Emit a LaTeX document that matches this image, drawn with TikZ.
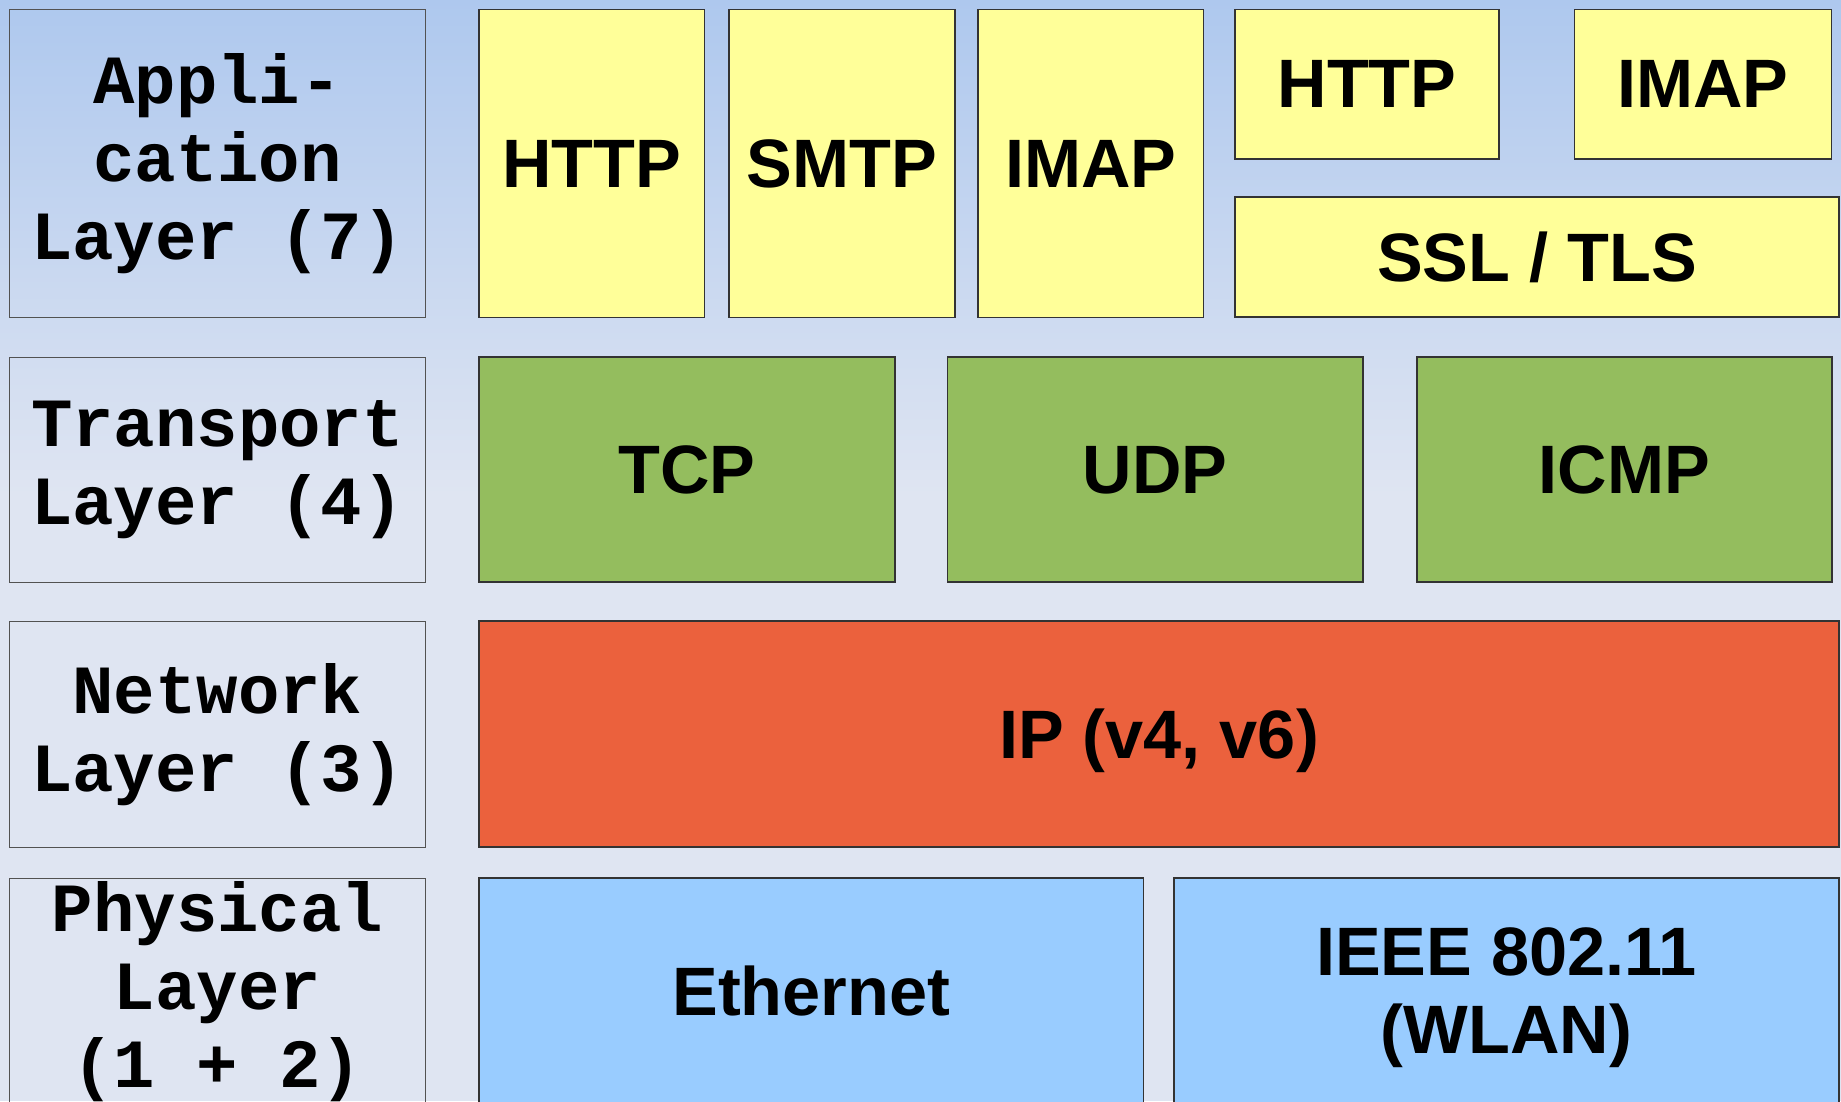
\documentclass[tikz,border=0pt]{standalone}
\usepackage{fontspec}
\setmainfont{Liberation Sans}
\newfontfamily\layerfont{Liberation Mono}
\definecolor{netSkyTop}{HTML}{AEC8EE}
\definecolor{netSkyLow}{HTML}{DFE5F2}
\definecolor{netYellow}{HTML}{FFFF99}
\definecolor{netGreen}{HTML}{94BD5E}
\definecolor{netRed}{HTML}{EB613D}
\definecolor{netBlue}{HTML}{99CCFF}
\definecolor{netEdge}{HTML}{333333}
\usetikzlibrary{positioning}

\begin{document}
\begin{tikzpicture}[x=1pt, y=-1pt,
  lyr/.style={draw=netEdge!85, line width=1.1pt, minimum width=416pt,
    inner sep=0pt, outer sep=0pt, align=center,
    font=\fontsize{69}{78}\selectfont\layerfont\bfseries},
  proto/.style={draw=netEdge, line width=1.2pt, inner sep=0pt, outer sep=0pt,
    align=center, text depth=0pt, font=\fontsize{68.5}{78}\selectfont\bfseries}]

  % page and background
  \useasboundingbox (0,0) rectangle (1841,1101);
  \clip (0,0) rectangle (1841,1101);
  \shade[top color=netSkyTop, bottom color=netSkyLow] (0,0) rectangle (1841,495);
  \fill[netSkyLow] (0,495) rectangle (1841,1101);

  % layer names
  \node[lyr, minimum height=308pt, anchor=north west] (app) at (9.5,9.5) {Appli-\\cation\\Layer (7)};
  \node[lyr, minimum height=225pt, below=40pt of app] (trans) {Transport\\Layer (4)};
  \node[lyr, minimum height=226pt, below=39pt of trans] (netw) {Network\\Layer (3)};
  \node[lyr, minimum height=226pt, below=31pt of netw] (phys) {Physical\\Layer\\(1 + 2)};

  % application protocols
  \node[proto, fill=netYellow, minimum width=225.5pt, minimum height=308pt, anchor=north west] (http) at (479,9.5) {HTTP};
  \node[proto, fill=netYellow, minimum width=226pt, minimum height=308pt, right=24.5pt of http] (smtp) {SMTP};
  \node[proto, fill=netYellow, minimum width=225.5pt, minimum height=308pt, right=23pt of smtp] (imap) {IMAP};
  \node[proto, fill=netYellow, minimum width=264pt, minimum height=149.5pt, anchor=north west] (https) at (1235,9.5) {HTTP};
  \node[proto, fill=netYellow, minimum width=257pt, minimum height=149.5pt, right=75.5pt of https] (imaps) {IMAP};
  \node[proto, fill=netYellow, minimum width=604pt, minimum height=120pt, anchor=north west] (tls) at (1235,197) {SSL / TLS};

  % transport
  \node[proto, fill=netGreen, minimum width=416pt, minimum height=225pt, anchor=north west] (tcp) at (479,357) {TCP};
  \node[proto, fill=netGreen, minimum width=415.5pt, minimum height=225pt, right=52.5pt of tcp] (udp) {UDP};
  \node[proto, fill=netGreen, minimum width=415pt, minimum height=225pt, right=54pt of udp] (icmp) {ICMP};

  % network
  \node[proto, fill=netRed, minimum width=1360pt, minimum height=226pt, anchor=north west] (ip) at (479,621) {IP (v4, v6)};

  % physical
  \node[proto, fill=netBlue, minimum width=664.5pt, minimum height=226pt, anchor=north west] (eth) at (479,878) {Ethernet};
  \node[proto, fill=netBlue, minimum width=665pt, minimum height=226pt, right=30.5pt of eth] (wlan) {IEEE 802.11\\(WLAN)};
\end{tikzpicture}
\end{document}
